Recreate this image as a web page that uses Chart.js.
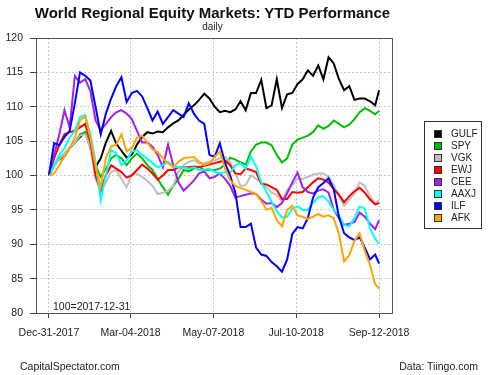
<!DOCTYPE html>
<html>
<head>
<meta charset="utf-8">
<script src="https://cdn.jsdelivr.net/npm/chart.js@4.4.1/dist/chart.umd.min.js"></script>
<style>
  body { margin: 0; background: #fff; font-family: "Liberation Sans", Arial, sans-serif; color: #222; }
  #wrap { position: relative; width: 500px; height: 375px; overflow: hidden; }
  #wrap canvas { position: absolute; left: 0; top: 0; }
  .txt { position: absolute; white-space: nowrap; line-height: 1; }
  #title { left: 0; width: 425px; top: 5px; text-align: center; font-weight: bold; font-size: 15px; color: #111; }
  #subtitle { left: 0; width: 425px; top: 21.5px; text-align: center; font-size: 10px; }
  #note { left: 53px; top: 301px; font-size: 10.5px; }
  #src { left: 20px; top: 360.5px; font-size: 10.5px; }
  #data { right: 22px; top: 360.5px; font-size: 10.5px; }
  #legend { position: absolute; left: 424px; top: 121px; width: 56px; height: 106px; border: 1px solid #333; }
  .item { position: absolute; left: 9px; font-size: 10px; line-height: 12px; height: 12px; }
  .sw { position: absolute; left: 0; top: 2px; width: 6px; height: 6px; border: 1px solid #333; }
  .lb { position: absolute; left: 17px; top: 0; }
</style>
</head>
<body>
<div id="wrap">
  <canvas id="chart" width="500" height="375"></canvas>
  <div class="txt" id="title">World Regional Equity Markets: YTD Performance</div>
  <div class="txt" id="subtitle">daily</div>
  <div class="txt" id="note">100=2017-12-31</div>
  <div class="txt" id="src">CapitalSpectator.com</div>
  <div class="txt" id="data">Data: Tiingo.com</div>
  <div id="legend"></div>
</div>
<script>
// days since 2017-12-31
const days = [0,4,8,12,16,20,24,28,32,36,40,44,48,52,56,60,64,68,72,76,80,84,88,92,96,100,
  104,108,112,116,120,124,128,132,136,140,144,148,152,156,160,164,168,172,176,180,184,188,
  192,196,200,204,208,212,216,220,224,228,232,236,240,244,248,252,255];

const tickDays = [0, 63, 127, 191, 255];
const tickLabels = ['Dec-31-2017', 'Mar-04-2018', 'May-07-2018', 'Jul-10-2018', 'Sep-12-2018'];

const names = ['GULF', 'SPY', 'VGK', 'EWJ', 'CEE', 'AAXJ', 'ILF', 'AFK'];
const colors = ['#000000', '#00c000', '#bebebe', '#ff0000', '#a020f0', '#00ffff', '#0000ff', '#ffa500'];

const gulf = [100,101.5,102.3,102.8,104,104.8,105.6,106.3,104,101.2,102.5,104.8,106.5,104.6,103.6,102.6,
  103,104.5,105.6,106.3,106.1,106.4,106.3,107,107.6,108,108.8,109.6,110.2,111,111.9,111.2,110,109.2,
  109.4,109.2,109.6,110.8,109.5,112,112,113.9,109.8,110.2,114,109.8,111.8,112,113.3,114,115.3,114.5,
  116,114,117.2,116.3,114,112.4,113,111,111.2,111.2,110.8,110.2,112.4];
const spy = [100,101.5,102.5,103.2,104,104.8,106,106.3,104.5,101.5,99.8,101,102.5,103,102.5,101.5,
  102.5,103.2,102.5,101.5,100.8,99.5,98.3,97.2,98.5,99.5,100.8,100.6,101,101.3,100.8,100.8,100.8,101,
  101.6,102.6,102.3,101.9,101.6,103.5,104.5,104.8,104.8,104.4,103,101.9,102.5,104.5,105.2,105.5,105.8,
  106.3,107.3,106.8,107.2,108,107.5,107,107.4,108.2,109.2,109.8,109.4,108.9,109.4];
const vgk = [100,101.3,102.3,103.2,104,104.8,105.8,106,104,99.5,97.8,99,100.5,100.8,99.5,98.3,
  100.2,100.3,99.8,99.2,98.5,97.3,97.5,97.8,98.5,100.5,101.5,102,102.2,101.8,101.8,102,102.2,102.5,
  102.7,102,100.3,98.5,98.6,100,99.5,99,98.3,97.5,97.2,96.2,97.9,98.6,99.6,99.5,99.8,100.1,100.3,
  100.3,99.8,98.6,97,95.6,96.5,97.4,99,98.5,97,96,96.4];
const ewj = [100,102.5,104.5,106,106.3,106.5,107,107.5,105,100,97.8,100,101.5,101,100.5,99.7,
  100,100.8,101.6,101,100.3,99.4,100,100.8,100.8,101.2,101.2,101.2,101.3,101.2,101.4,101.6,101.8,102,
  102.2,101.5,100.3,100.2,101,100.8,100.5,98.8,98.7,98.3,97.9,96.6,96.6,97.6,97.5,97.6,98.3,99,99.6,
  99.4,99,98,97.2,96.1,97,97.7,98.2,97.5,96.5,95.8,96];
const cee = [100,103,106,109.5,107,114.5,113.5,114,112.3,108,106.6,107.5,108.5,109.2,109.5,109,
  108.2,106.5,104.8,104.8,104.2,103,101.2,104.5,101.5,99,97.8,98.5,99.3,100.3,100.6,99.6,99.8,100.3,
  99.5,98.5,96.8,97,97.2,97.4,97.3,96.5,95.9,96,95.4,96,97.4,99,100.4,98.3,97.6,97.4,97.8,98,97.5,
  95,93.8,92.8,93,93.2,94.6,94,93,92.2,93.5];
const aaxj = [100,101.5,103,104,105.5,106.5,108.5,108.8,106,102,96.4,100,103.7,103.2,101.5,102.2,
  103.5,103.7,103,102.4,101.8,101.2,101.5,102,101.3,101.2,101.2,101,101.2,100.8,100.8,101,100.5,100.3,
  100.5,100.4,101.5,101.8,101,102.8,101.3,99,97.6,96.2,94.8,93.9,94,95.2,95.5,95,95,96,96.8,97,96.2,
  95,94.2,92.8,92.6,93.8,95.5,95.2,92.3,90.8,90.1];
const ilf = [100,104.7,104.4,105.6,106.5,110.5,115,114.5,113.8,110,106,109,111.2,113,114.3,110.7,
  112,112.3,111.5,109.8,108,109.3,107.5,108.5,109.5,109,108.5,110.5,109,108,107.5,103,102.7,104.7,
  101.8,100,97.5,92.5,92.5,93,89.5,88.5,88.3,87.4,86.8,86,87.8,91.5,92.5,92.3,93.8,96.8,98.3,98.9,
  99.6,98,94,91.6,91,90.6,91,89.5,87.8,88.5,87.2];
const afk = [100,100.3,101.5,102.8,104,105.5,108,108.6,105.5,101.3,98.3,102.5,104.2,104.5,106,103.5,
  104,105.5,105.8,104.8,103.8,103.4,102.5,101.8,101.2,102,102.5,102.6,102.7,102,101.5,101.8,102.7,
  103.5,101,99.3,98.5,98.2,97.9,97.6,97.3,96.3,95,95.3,93.5,92.6,95,95.6,94.2,94,93.7,94,94.4,94,
  94.2,93.8,91.5,87.5,88.4,90.5,91.6,89,87,84.2,83.5];

const series = [gulf, spy, vgk, ewj, cee, aaxj, ilf, afk];

const FONT = '"Liberation Sans", Arial, sans-serif';

// legend box on the right
const legendEl = document.getElementById('legend');
names.forEach((n, i) => {
  const item = document.createElement('div');
  item.className = 'item';
  item.style.top = (6 + i * 12) + 'px';
  item.innerHTML = '<span class="sw" style="background:' + colors[i] + '"></span><span class="lb">' + n + '</span>';
  legendEl.appendChild(item);
});

// frame around the plot region
const boxPlugin = {
  id: 'box',
  afterDatasetsDraw(chart) {
    const a = chart.chartArea;
    const c = chart.ctx;
    c.save();
    c.strokeStyle = '#555';
    c.lineWidth = 1;
    c.strokeRect(Math.round(a.left) + 0.5, Math.round(a.top) + 0.5, Math.round(a.right - a.left), Math.round(a.bottom - a.top));
    c.restore();
  }
};

new Chart(document.getElementById('chart'), {
  type: 'line',
  data: {
    datasets: names.map((n, i) => ({
      label: n,
      data: days.map((d, j) => ({ x: d, y: series[i][j] })),
      borderColor: colors[i],
      backgroundColor: colors[i],
      borderWidth: 2,
      pointRadius: 0,
      tension: 0,
      order: names.length - i
    }))
  },
  options: {
    responsive: false,
    animation: false,
    layout: { padding: { left: 0, top: 38, right: 108, bottom: 32 } },
    plugins: { legend: { display: false }, tooltip: { enabled: false } },
    scales: {
      x: {
        type: 'linear', min: -10, max: 265,
        afterBuildTicks: s => { s.ticks = tickDays.map(v => ({ value: v })); },
        afterFit: s => { s.height = 30; },
        ticks: {
          callback: v => tickLabels[tickDays.indexOf(v)],
          color: '#222', font: { size: 10.5, family: FONT },
          padding: 9, maxRotation: 0, autoSkip: false
        },
        grid: { color: '#c8c8c8', tickColor: '#444', tickLength: 5, tickWidth: 1 },
        border: { display: false, dash: [2, 2] }
      },
      y: {
        min: 80, max: 120,
        afterFit: s => { s.width = 36; },
        ticks: { stepSize: 5, color: '#222', font: { size: 10.5, family: FONT }, padding: 7 },
        grid: { color: '#c8c8c8', tickColor: '#444', tickLength: 6, tickWidth: 1 },
        border: { display: false, dash: [2, 2] }
      }
    }
  },
  plugins: [boxPlugin]
});
</script>
</body>
</html>
